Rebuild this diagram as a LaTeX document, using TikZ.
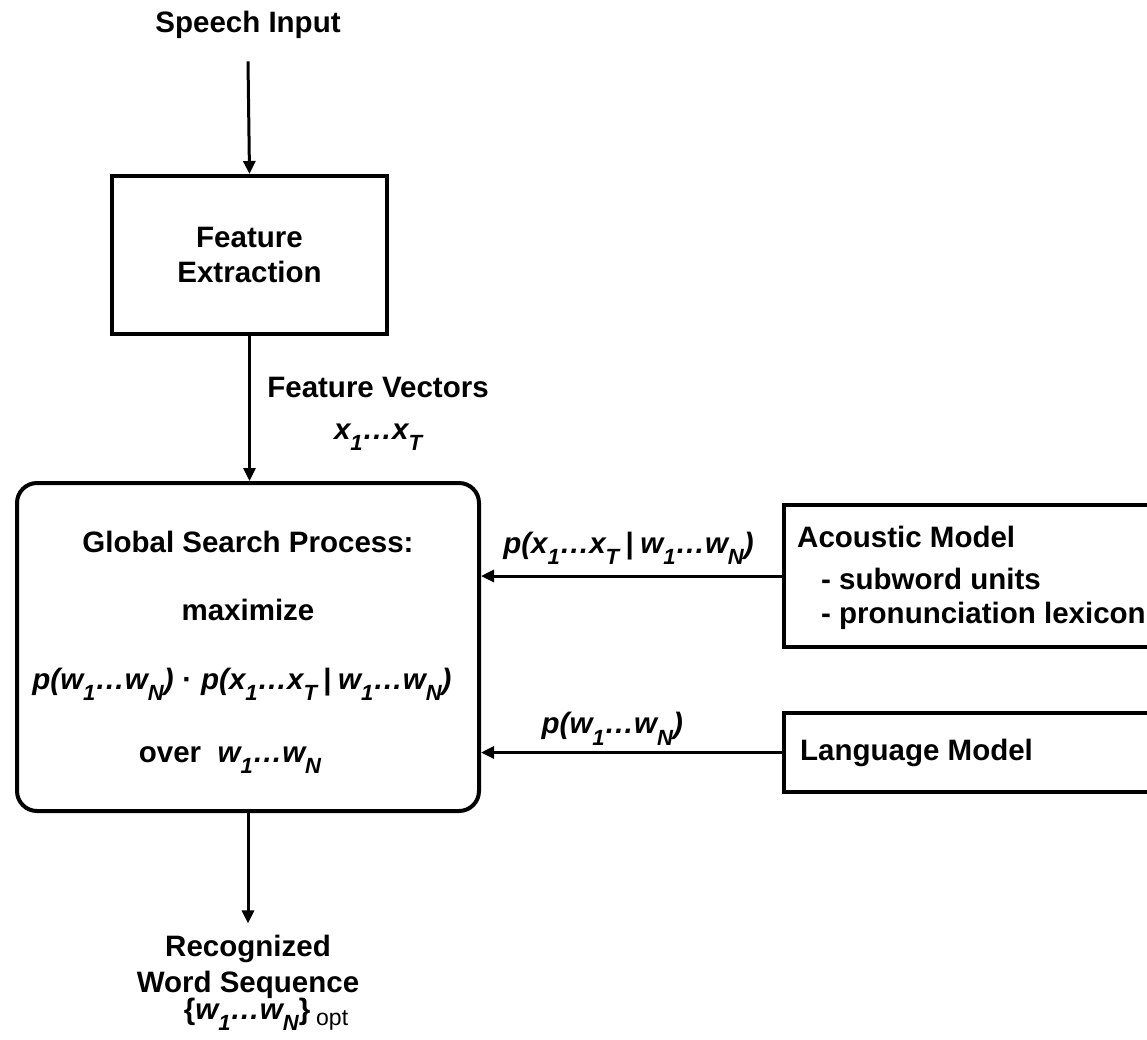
\documentclass[tikz,border=0pt]{standalone}
\usepackage{fontspec}
\setmainfont{Liberation Sans}
\usetikzlibrary{arrows.meta}
\newcommand{\lsub}[1]{\raisebox{-0.4em}{\fontsize{22}{22}\selectfont #1}}
\newcommand{\vbar}{{\upshape\hspace{0.22em}|\hspace{0.22em}}}
\newcommand{\dts}{…}
\tikzset{
  txt/.style={inner sep=0pt, font=\fontsize{29.5}{35}\selectfont\bfseries},
  boxnode/.style={draw, line width=4pt, inner sep=0pt, align=center, font=\fontsize{29.5}{35}\selectfont\bfseries},
  arr/.style={line width=3pt, -{Triangle[length=13pt,width=12pt]}},
}
\begin{document}
\begin{tikzpicture}[x=1pt,y=-1pt]
\clip (0,0) rectangle (1147,1039);
\fill[white] (0,0) rectangle (1147,1039);
% nodes
\node[txt, anchor=base] (speech) at (248,32) {Speech Input};
\node[boxnode, minimum width=275pt, minimum height=158pt] (fe) at (249.5,255) {Feature\\Extraction};
\node[txt, anchor=base] (fv1) at (378,397) {Feature Vectors};
\node[txt, anchor=base] (fv2) at (378,439) {\itshape x\lsub{1}\dts x\lsub{T}};
\node[boxnode, rounded corners=20pt, minimum width=462pt, minimum height=328pt] (search) at (248,647) {};
\node[txt, anchor=base] (g1) at (248,552) {Global Search Process:};
\node[txt, anchor=base] (g2) at (248,620) {maximize};
\node[txt, anchor=base] (g3) at (242,689) {\itshape p(w\lsub{1}\dts w\lsub{N})\hspace{0.3em}{\upshape·}\hspace{0.3em}p(x\lsub{1}\dts x\lsub{T}\vbar w\lsub{1}\dts w\lsub{N})};
\node[txt, anchor=base] (g4) at (230,762) {over\ \ {\itshape w\lsub{1}\dts w\lsub{N}}};
\node[boxnode, minimum width=380pt, minimum height=142pt] (am) at (974,576) {};
\node[txt, anchor=base west] (am1) at (797,547) {Acoustic Model};
\node[txt, anchor=base west] (am2) at (821,589) {- subword units};
\node[txt, anchor=base west] (am3) at (821,623) {- pronunciation lexicon};
\node[boxnode, minimum width=380pt, minimum height=79pt] (lm) at (974,752.5) {};
\node[txt, anchor=base west] (lm1) at (800,760) {Language Model};
\node[txt, anchor=base] (out1) at (248,956) {Recognized};
\node[txt, anchor=base] (out2) at (248,992) {Word Sequence};
\node[txt, anchor=base] (out3) at (266,1019) {\{{\itshape w\lsub{1}\dts w\lsub{N}}\}\hspace{0.2em}\raisebox{-0.22em}{\fontsize{23}{23}\selectfont\mdseries opt}};
% connectors
\draw[arr] ([yshift=-23pt]speech.south) -- (fe.north);
\draw[arr] (fe.south) -- (fe.south |- search.north);
\draw[arr] (am.west) -- node[txt, pos=0.51, anchor=base, yshift=23pt] (lab1) {\itshape p(x\lsub{1}\dts x\lsub{T}\vbar w\lsub{1}\dts w\lsub{N})} (am.west -| search.east);
\draw[arr] (lm.west) -- node[txt, pos=0.564, anchor=base, yshift=19pt] (lab2) {\itshape p(w\lsub{1}\dts w\lsub{N})} (lm.west -| search.east);
\draw[arr] (search.south) -- ([yshift=11pt]out1.north);
\end{tikzpicture}
\end{document}
